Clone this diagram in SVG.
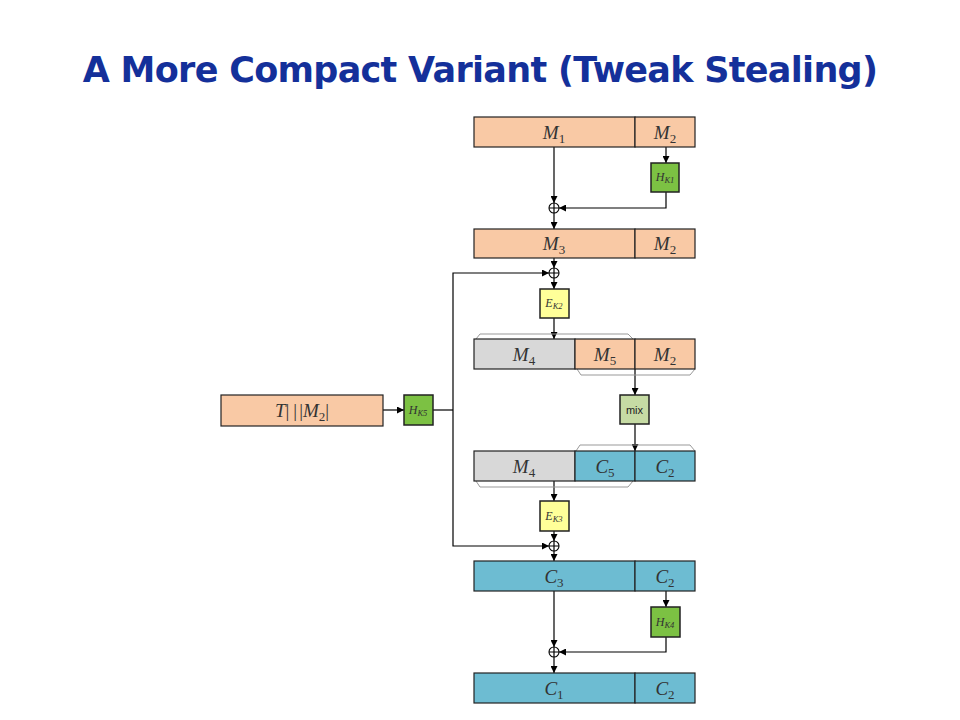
<svg xmlns="http://www.w3.org/2000/svg" width="960" height="720" viewBox="0 0 960 720">
<defs>
<marker id="arr" viewBox="0 0 10 10" refX="10" refY="5" markerWidth="7" markerHeight="7" markerUnits="userSpaceOnUse" orient="auto">
<path d="M0,0 L10,5 L0,10 Z" fill="#000"/>
</marker>
<style>
.title{font-family:"DejaVu Sans",sans-serif;font-weight:bold;font-size:35px;letter-spacing:-0.7px;fill:#14309a}
.cell{stroke:#222;stroke-width:1.2}
.or{fill:#f9c9a5}
.bl{fill:#6dbcd2}
.gr{fill:#d8d8d8}
.hk{fill:#7cc143;stroke:#222;stroke-width:1.5}
.ek{fill:#ffff99;stroke:#222;stroke-width:1.5}
.mx{fill:#c6dba4;stroke:#222;stroke-width:1.5}
.lab{font-family:"Liberation Serif",serif;font-style:italic;font-size:19px;fill:#333;text-anchor:middle}
.sub{font-style:normal;font-size:13px}
.slab{font-family:"Liberation Serif",serif;font-style:italic;font-size:12px;fill:#333;text-anchor:middle}
.ssub{font-size:8.5px}
.ln{stroke:#000;stroke-width:1.2;fill:none}
.xor{stroke:#000;stroke-width:1.1;fill:#fff}
.br{stroke:#999;stroke-width:1;fill:none}
</style>
</defs>
<text class="title" x="480" y="82" text-anchor="middle">A More Compact Variant (Tweak Stealing)</text>

<g id="connectors">
<line class="ln" x1="554" y1="147" x2="554" y2="203" marker-end="url(#arr)"/>
<line class="ln" x1="666" y1="147" x2="666" y2="163" marker-end="url(#arr)"/>
<polyline class="ln" points="666,192 666,208 559,208" marker-end="url(#arr)"/>
<line class="ln" x1="554" y1="213" x2="554" y2="229" marker-end="url(#arr)"/>
<line class="ln" x1="554" y1="258" x2="554" y2="268" marker-end="url(#arr)"/>
<polyline class="ln" points="453,410 453,273 549,273" marker-end="url(#arr)"/>
<line class="ln" x1="554" y1="278" x2="554" y2="289" marker-end="url(#arr)"/>
<line class="ln" x1="554" y1="318" x2="554" y2="339" marker-end="url(#arr)"/>
<line class="ln" x1="635" y1="369" x2="635" y2="395" marker-end="url(#arr)"/>
<line class="ln" x1="635" y1="424" x2="635" y2="451" marker-end="url(#arr)"/>
<line class="ln" x1="383" y1="410" x2="404" y2="410" marker-end="url(#arr)"/>
<line class="ln" x1="433" y1="410" x2="453" y2="410"/>
<polyline class="ln" points="453,410 453,546 549,546" marker-end="url(#arr)"/>
<line class="ln" x1="554" y1="481" x2="554" y2="501" marker-end="url(#arr)"/>
<line class="ln" x1="554" y1="531" x2="554" y2="541" marker-end="url(#arr)"/>
<line class="ln" x1="554" y1="551" x2="554" y2="561" marker-end="url(#arr)"/>
<line class="ln" x1="554" y1="591" x2="554" y2="647" marker-end="url(#arr)"/>
<line class="ln" x1="666" y1="591" x2="666" y2="607" marker-end="url(#arr)"/>
<polyline class="ln" points="666,637 666,652 559,652" marker-end="url(#arr)"/>
<line class="ln" x1="554" y1="657" x2="554" y2="673" marker-end="url(#arr)"/>
</g>

<g id="xor1"><circle class="xor" cx="554" cy="208" r="5"/><path class="ln" d="M549,208 H559 M554,203 V213"/></g>
<g id="xor2"><circle class="xor" cx="554" cy="273" r="5"/><path class="ln" d="M549,273 H559 M554,268 V278"/></g>
<g id="xor3"><circle class="xor" cx="554" cy="546" r="5"/><path class="ln" d="M549,546 H559 M554,541 V551"/></g>
<g id="xor4"><circle class="xor" cx="554" cy="652" r="5"/><path class="ln" d="M549,652 H559 M554,647 V657"/></g>

<g id="row1">
<rect class="cell or" x="474" y="117" width="161" height="30"/>
<rect class="cell or" x="635" y="117" width="60" height="30"/>
<text class="lab" x="554" y="139">M<tspan class="sub" dy="4">1</tspan></text>
<text class="lab" x="665" y="139">M<tspan class="sub" dy="4">2</tspan></text>
</g>
<g id="hk1">
<rect class="hk" x="651" y="163" width="28" height="29"/>
<text class="slab" x="665" y="181">H<tspan class="ssub" dy="2">K1</tspan></text>
</g>
<g id="row2">
<rect class="cell or" x="474" y="229" width="161" height="29"/>
<rect class="cell or" x="635" y="229" width="60" height="29"/>
<text class="lab" x="554" y="250">M<tspan class="sub" dy="4">3</tspan></text>
<text class="lab" x="665" y="250">M<tspan class="sub" dy="4">2</tspan></text>
</g>
<g id="ek2">
<rect class="ek" x="540" y="289" width="29" height="29"/>
<text class="slab" x="554" y="307">E<tspan class="ssub" dy="2">K2</tspan></text>
</g>
<g id="row3">
<path class="br" d="M476,339 L480,334 L628,334 L633,339"/>
<path class="br" d="M577,369 L581,375 L690,375 L695,369"/>
<rect class="cell gr" x="474" y="339" width="101" height="30"/>
<rect class="cell or" x="575" y="339" width="60" height="30"/>
<rect class="cell or" x="635" y="339" width="60" height="30"/>
<text class="lab" x="524" y="361">M<tspan class="sub" dy="4">4</tspan></text>
<text class="lab" x="605" y="361">M<tspan class="sub" dy="4">5</tspan></text>
<text class="lab" x="665" y="361">M<tspan class="sub" dy="4">2</tspan></text>
</g>
<g id="mix">
<rect class="mx" x="620" y="395" width="29" height="29"/>
<text x="634.5" y="414" font-family="Liberation Sans,sans-serif" font-size="11" fill="#222" text-anchor="middle">mix</text>
</g>
<g id="row4">
<path class="br" d="M576,451 L580,445 L690,445 L695,451"/>
<path class="br" d="M476,481 L480,487 L628,487 L633,481"/>
<rect class="cell gr" x="474" y="451" width="101" height="30"/>
<rect class="cell bl" x="575" y="451" width="60" height="30"/>
<rect class="cell bl" x="635" y="451" width="60" height="30"/>
<text class="lab" x="524" y="473">M<tspan class="sub" dy="4">4</tspan></text>
<text class="lab" x="605" y="473">C<tspan class="sub" dy="4">5</tspan></text>
<text class="lab" x="665" y="473">C<tspan class="sub" dy="4">2</tspan></text>
</g>
<g id="tm2">
<rect class="cell or" x="221" y="395" width="162" height="31"/>
<text class="lab" x="302" y="417">T<tspan font-style="normal">|</tspan><tspan font-style="normal" dx="4">|</tspan><tspan font-style="normal" dx="2">|</tspan>M<tspan class="sub" dy="4">2</tspan><tspan dy="-4" font-style="normal">|</tspan></text>
</g>
<g id="hk5">
<rect class="hk" x="404" y="395" width="29" height="30"/>
<text class="slab" x="418" y="414">H<tspan class="ssub" dy="2">K5</tspan></text>
</g>
<g id="ek3">
<rect class="ek" x="540" y="501" width="29" height="30"/>
<text class="slab" x="554" y="520">E<tspan class="ssub" dy="2">K3</tspan></text>
</g>
<g id="row5">
<rect class="cell bl" x="474" y="561" width="161" height="30"/>
<rect class="cell bl" x="635" y="561" width="60" height="30"/>
<text class="lab" x="554" y="583">C<tspan class="sub" dy="4">3</tspan></text>
<text class="lab" x="665" y="583">C<tspan class="sub" dy="4">2</tspan></text>
</g>
<g id="hk4">
<rect class="hk" x="651" y="607" width="29" height="30"/>
<text class="slab" x="665" y="626">H<tspan class="ssub" dy="2">K4</tspan></text>
</g>
<g id="row6">
<rect class="cell bl" x="474" y="673" width="161" height="30"/>
<rect class="cell bl" x="635" y="673" width="60" height="30"/>
<text class="lab" x="554" y="695">C<tspan class="sub" dy="4">1</tspan></text>
<text class="lab" x="665" y="695">C<tspan class="sub" dy="4">2</tspan></text>
</g>
</svg>
